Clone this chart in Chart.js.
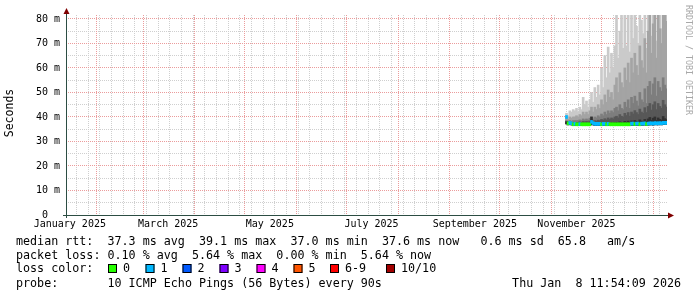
<!DOCTYPE html>
<html>
<head>
<meta charset="utf-8">
<title>SmokePing - last 360 days</title>
<script src="https://cdn.jsdelivr.net/npm/chart.js@4.4.1/dist/chart.umd.min.js"></script>
<style>
  html, body { margin: 0; padding: 0; background: #ffffff; }
  canvas { display: block; }
</style>
</head>
<body>
<canvas id="chart-smokeping" width="697" height="297"></canvas>
<script>
// days are counted from 1 January 2025; one value per day from the first day with data
const firstDataDay = 313;

// median rtt in ms
const medianRtt = [
  40.0, 37.4, 37.6, 37.4, 37.0, 37.2, 37.0, 37.0, 37.1, 37.0,
  37.0, 37.0, 37.0, 37.0, 37.0, 38.0, 37.5, 37.2, 37.2, 37.2,
  37.2, 37.0, 37.2, 37.2, 37.0, 37.2, 37.0, 37.0, 37.0, 37.0,
  37.0, 37.0, 37.0, 37.0, 37.0, 37.0, 37.0, 37.0, 37.0, 37.3,
  37.3, 37.1, 37.3, 37.3, 37.0, 37.3, 37.3, 37.4, 37.1, 37.3,
  37.4, 37.4, 37.3, 37.5, 37.4, 37.4, 37.5, 37.4, 37.6, 37.6,
  37.6
];

// lost pings out of 10
const lossCount = [
  1, 0, 1, 1, 0, 1, 0, 0, 1, 0,
  0, 0, 0, 0, 0, 1, 1, 1, 1, 1,
  1, 0, 1, 1, 0, 1, 0, 0, 0, 0,
  0, 0, 0, 0, 0, 0, 0, 0, 0, 1,
  1, 0, 1, 1, 0, 1, 1, 1, 0, 1,
  1, 1, 1, 1, 1, 1, 1, 1, 1, 1,
  1
];

// smoke: lowest ping and the upper pings (sorted), ms
const pingMin = [
  37.2, 36.8, 36.9, 36.8, 36.5, 36.6, 36.5, 36.5, 36.6, 36.5,
  36.5, 36.5, 36.5, 36.5, 36.5, 36.9, 36.8, 36.6, 36.6, 36.6,
  36.6, 36.5, 36.6, 36.6, 36.5, 36.6, 36.5, 36.5, 36.5, 36.5,
  36.5, 36.5, 36.5, 36.5, 36.5, 36.5, 36.5, 36.5, 36.5, 36.7,
  36.7, 36.6, 36.7, 36.7, 36.5, 36.7, 36.7, 36.8, 36.6, 36.7,
  36.8, 36.8, 36.7, 36.9, 36.8, 36.8, 36.9, 36.8, 37.0, 37.0,
  37.0
];

const ping6 = [
  38.0, 37.5, 37.6, 37.5, 37.4, 37.5, 37.4, 37.4, 37.5, 37.4,
  37.5, 37.4, 37.5, 37.4, 37.6, 40.0, 37.8, 37.6, 37.5, 37.6,
  37.6, 37.5, 37.6, 37.7, 37.4, 37.7, 37.5, 37.6, 37.5, 37.7,
  37.8, 37.5, 38.0, 37.7, 37.6, 38.2, 37.8, 38.3, 37.7, 38.4,
  38.0, 38.6, 38.2, 37.9, 38.8, 38.3, 38.1, 39.0, 38.2, 39.2,
  39.8, 38.6, 39.5, 40.0, 38.6, 39.6, 39.0, 38.7, 40.2, 39.3,
  38.9
];

const ping7 = [
  38.2, 37.8, 37.9, 37.8, 37.8, 37.8, 37.8, 37.8, 38.0, 37.8,
  38.2, 38.0, 38.2, 38.0, 38.3, 38.8, 38.3, 38.5, 38.3, 38.7,
  38.5, 39.0, 38.7, 39.3, 38.8, 39.6, 39.0, 39.6, 39.2, 40.0,
  40.3, 39.6, 41.0, 40.3, 40.0, 41.5, 40.6, 41.8, 40.3, 42.0,
  41.2, 42.6, 41.8, 41.0, 43.2, 42.0, 41.5, 43.8, 41.8, 44.3,
  45.5, 42.8, 45.0, 46.2, 43.0, 45.5, 44.3, 43.6, 46.8, 45.0,
  44.0
];

const ping8 = [
  38.5, 38.2, 38.5, 38.2, 38.5, 38.5, 38.5, 38.5, 38.8, 38.5,
  39.2, 38.8, 39.2, 38.8, 39.5, 40.0, 39.2, 40.0, 39.6, 40.5,
  40.0, 41.2, 40.5, 42.0, 41.0, 42.5, 41.5, 42.5, 41.8, 43.5,
  44.0, 42.5, 45.0, 43.5, 43.0, 46.0, 44.0, 47.0, 43.5, 48.0,
  45.5, 48.5, 46.5, 44.5, 50.0, 47.0, 46.0, 51.5, 45.5, 52.5,
  54.5, 49.0, 53.5, 56.0, 48.5, 54.5, 52.0, 50.5, 56.0, 53.0,
  51.5
];

const ping9 = [
  40.0, 39.0, 40.0, 39.5, 40.0, 40.0, 40.5, 40.0, 41.0, 40.5,
  42.0, 41.0, 42.0, 41.0, 42.5, 44.0, 42.0, 44.0, 43.0, 45.0,
  43.5, 47.0, 45.0, 49.0, 46.0, 51.0, 48.0, 50.0, 47.0, 53.0,
  56.0, 50.0, 58.0, 54.0, 52.0, 60.0, 55.0, 62.0, 54.0, 64.0,
  58.0, 66.0, 61.0, 57.0, 69.0, 63.0, 60.0, 72.0, 58.0, 75.0,
  81.6, 66.0, 78.0, 81.6, 64.0, 81.6, 76.0, 70.0, 81.6, 81.6,
  79.0
];

const ping10 = [
  41.5, 40.5, 42.5, 42.0, 43.0, 42.5, 43.5, 42.0, 44.0, 43.0,
  48.0, 45.0, 46.5, 44.0, 47.0, 50.0, 46.0, 52.0, 48.0, 53.0,
  49.0, 60.0, 52.0, 65.0, 56.0, 68.5, 58.0, 66.0, 60.0, 69.0,
  81.6, 64.0, 75.0, 81.6, 68.0, 81.6, 69.0, 81.6, 66.5, 81.6,
  72.0, 81.6, 77.0, 70.0, 81.6, 79.5, 74.0, 81.6, 68.0, 81.6,
  81.6, 73.0, 81.6, 80.0, 71.0, 81.6, 81.6, 76.0, 81.6, 81.6,
  81.6
];

// time axis
const monthStartDays = [31, 59, 90, 120, 151, 181, 212, 243, 273, 304, 334, 365];
const monthLabelDays = [15, 74, 135, 196, 258, 319];
const monthLabels = ['January 2025', 'March 2025', 'May 2025', 'July 2025', 'September 2025', 'November 2025'];

// value axis
const yLabelValues = [0, 10, 20, 30, 40, 50, 60, 70, 80];
const yLabels = ['0  ', '10 m', '20 m', '30 m', '40 m', '50 m', '60 m', '70 m', '80 m'];

// loss legend
const lossLabels = ['0', '1', '2', '3', '4', '5', '6-9', '10/10'];
const lossColors = ['#26ff00', '#00b8ff', '#0059ff', '#7e00ff', '#ff00ff', '#ff5500', '#ff0000', '#a10000'];

const rttStats = ['37.3 ms avg', '39.1 ms max', '37.0 ms min', '37.6 ms now', ' 0.6 ms sd', '65.8   am/s'];
const lossStats = ['0.10 % avg', '5.64 % max', '0.00 % min', '5.64 % now'];
const probeText = '10 ICMP Echo Pings (56 Bytes) every 90s';
const stampText = 'Thu Jan  8 11:54:09 2026';

const smokeColors = ['#cacaca', '#a4a4a4', '#7e7e7e', '#585858', '#323232'];

// ---------------------------------------------------------------

const AXIS_START = 13.3;
const AXIS_END = 373.3;
const Y_MAX = 81.6;
const MONO = '"DejaVu Sans Mono", monospace';
const MINOR = '#cfcfcf';
const MAJOR = '#eb9c9c';

Chart.defaults.font.family = MONO;

const dayOf = i => firstDataDay + i;

function lossColor(n) {
  if (n <= 5) return lossColors[n];
  if (n < 10) return lossColors[6];
  return lossColors[7];
}

// weekly (monday) minor lines
const weekDays = [];
for (let d = 19; d <= AXIS_END; d += 7) {
  if (!monthStartDays.includes(d)) weekDays.push(d);
}

function smokeBand(tops, color, order) {
  return {
    type: 'bar',
    data: tops.map((t, i) => ({ x: dayOf(i), y: [pingMin[i], t] })),
    backgroundColor: color,
    borderWidth: 0,
    barThickness: 2,
    grouped: false,
    order
  };
}

const datasets = [
  smokeBand(ping10, smokeColors[0], 10),
  smokeBand(ping9, smokeColors[1], 9),
  smokeBand(ping8, smokeColors[2], 8),
  smokeBand(ping7, smokeColors[3], 7),
  smokeBand(ping6, smokeColors[4], 6),
  {
    type: 'bar',
    data: medianRtt.map((m, i) => ({ x: dayOf(i), y: [m - 0.6, m + 0.6] })),
    backgroundColor: lossCount.map(lossColor),
    borderWidth: 0,
    barThickness: 2,
    grouped: false,
    order: 1
  }
];

/**
 * Dotted rrdtool grid, placed through the chart scales
 */
const rrdGrid = {
  id: 'rrdGrid',
  beforeDatasetsDraw(chart) {
    const { ctx, chartArea: a, scales } = chart;
    const top = Math.floor(a.top);
    const bottom = Math.floor(a.bottom);
    const left = Math.floor(a.left);
    const right = Math.floor(a.right);
    ctx.save();

    const vLine = (day, color) => {
      const px = Math.floor(scales.x.getPixelForValue(day));
      ctx.fillStyle = color;
      for (let py = top; py < bottom; py += 2) ctx.fillRect(px, py, 1, 1);
    };
    const hLine = (v, color) => {
      const py = Math.floor(scales.y.getPixelForValue(v));
      ctx.fillStyle = color;
      for (let px = left + 1; px < right; px += 2) ctx.fillRect(px, py, 1, 1);
    };

    for (let v = 5; v <= 80; v += 10) hLine(v, MINOR);
    weekDays.forEach(d => vLine(d, MINOR));
    for (let v = 10; v <= 80; v += 10) hLine(v, MAJOR);
    monthStartDays.forEach(d => vLine(d, MAJOR));

    ctx.restore();
  }
};

/**
 * rrdtool style decorations: axes, arrows, titles, legend
 */
const rrdDecor = {
  id: 'rrdDecor',
  afterDraw(chart) {
    const { ctx, chartArea: a } = chart;
    ctx.save();

    // axes
    ctx.strokeStyle = '#2c4d43';
    ctx.lineWidth = 1;
    ctx.beginPath();
    ctx.moveTo(a.left - 0.5, a.bottom + 3);
    ctx.lineTo(a.left - 0.5, a.top - 2);
    ctx.moveTo(a.left - 4, a.bottom + 0.5);
    ctx.lineTo(a.right + 2, a.bottom + 0.5);
    ctx.stroke();

    // arrows
    ctx.fillStyle = '#7f0000';
    ctx.beginPath();
    ctx.moveTo(a.left - 0.5, a.top - 7);
    ctx.lineTo(a.left - 3.5, a.top - 1);
    ctx.lineTo(a.left + 2.5, a.top - 1);
    ctx.closePath();
    ctx.fill();
    ctx.beginPath();
    ctx.moveTo(a.right + 7, a.bottom + 0.5);
    ctx.lineTo(a.right + 1, a.bottom - 2.5);
    ctx.lineTo(a.right + 1, a.bottom + 3.5);
    ctx.closePath();
    ctx.fill();

    // vertical label
    ctx.fillStyle = '#000';
    ctx.font = '11.5px ' + MONO;
    ctx.textAlign = 'center';
    ctx.textBaseline = 'middle';
    ctx.save();
    ctx.translate(10, 113);
    ctx.rotate(-Math.PI / 2);
    ctx.fillText('Seconds', 0, 0);
    ctx.restore();

    // watermark
    ctx.save();
    ctx.fillStyle = '#a8a8a8';
    ctx.font = '8.3px ' + MONO;
    ctx.textAlign = 'left';
    ctx.translate(688, 5);
    ctx.rotate(Math.PI / 2);
    ctx.fillText('RRDTOOL / TOBI OETIKER', 0, 0);
    ctx.restore();

    // legend
    ctx.font = '11.7px ' + MONO;
    ctx.textAlign = 'left';
    ctx.fillStyle = '#000';
    ctx.fillText('median rtt:  ' + rttStats.join('  '), 16, 241.5);
    ctx.fillText('packet loss: ' + lossStats.join('  '), 16, 255.5);
    ctx.fillText('loss color:', 16, 269);
    ctx.fillText('probe:       ' + probeText, 16, 283.5);
    ctx.textAlign = 'right';
    ctx.fillText(stampText, 681, 283.5);

    const boxX = [108, 145.5, 182.5, 219.5, 256.5, 293.5, 330, 386];
    ctx.textAlign = 'left';
    lossLabels.forEach((label, i) => {
      const bx = boxX[i];
      ctx.fillStyle = lossColors[i];
      ctx.fillRect(bx, 264, 9, 9);
      ctx.strokeStyle = '#000';
      ctx.strokeRect(bx + 0.5, 264.5, 8, 8);
      ctx.fillStyle = '#000';
      ctx.fillText(label, bx + 15, 269);
    });

    ctx.restore();
  }
};

new Chart(document.getElementById('chart-smokeping'), {
  type: 'bar',
  data: { datasets },
  options: {
    responsive: false,
    devicePixelRatio: 1,
    animation: false,
    layout: { padding: { left: 0, right: 30, top: 15, bottom: 62 } },
    plugins: {
      legend: { display: false },
      tooltip: { enabled: false }
    },
    scales: {
      x: {
        type: 'linear',
        min: AXIS_START,
        max: AXIS_END,
        offset: false,
        afterBuildTicks: s => { s.ticks = monthLabelDays.map(v => ({ value: v })); },
        afterFit: s => { s.height = 20; },
        grid: { display: false, offset: false, drawTicks: false },
        border: { display: false },
        ticks: {
          autoSkip: false,
          maxRotation: 0,
          minRotation: 0,
          padding: 3,
          color: '#000',
          font: { size: 10, family: MONO },
          callback: v => {
            const k = monthLabelDays.indexOf(v);
            return k >= 0 ? monthLabels[k] : '';
          }
        }
      },
      y: {
        type: 'linear',
        min: 0,
        max: Y_MAX,
        afterBuildTicks: s => { s.ticks = yLabelValues.map(v => ({ value: v })); },
        afterFit: s => { s.width = 67; },
        grid: { display: false, drawTicks: false },
        border: { display: false },
        ticks: {
          autoSkip: false,
          padding: 7,
          color: '#000',
          font: { size: 10, family: MONO },
          callback: v => {
            const k = yLabelValues.indexOf(v);
            return k >= 0 ? yLabels[k] : '';
          }
        }
      }
    }
  },
  plugins: [rrdGrid, rrdDecor]
});
</script>
</body>
</html>
